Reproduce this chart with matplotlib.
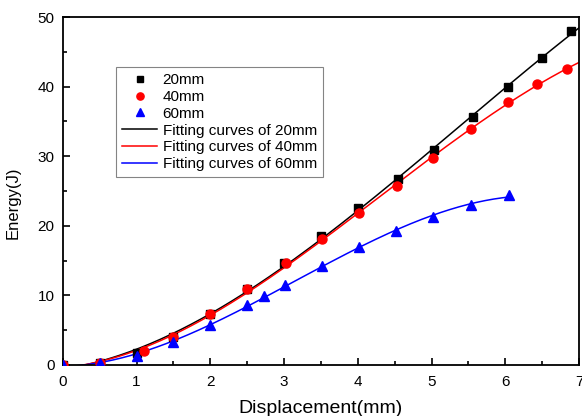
import numpy as np
import matplotlib
matplotlib.use("Agg")
import matplotlib.pyplot as plt
from matplotlib.ticker import MultipleLocator

plt.rcParams['font.family'] = ['Liberation Sans', 'DejaVu Sans']

x20 = [0, 0.5, 1.0, 1.5, 2.0, 2.5, 3.0, 3.5, 4.0, 4.55, 5.03, 5.56, 6.04, 6.5, 6.89]
y20 = [0, 0.3, 1.7, 4.0, 7.3, 10.9, 14.7, 18.5, 22.5, 26.7, 30.9, 35.6, 39.9, 44.1, 48.0]
x40 = [0, 0.5, 1.1, 1.5, 2.0, 2.5, 3.03, 3.51, 4.02, 4.53, 5.02, 5.53, 6.04, 6.43, 6.84]
y40 = [0, 0.3, 2.0, 4.0, 7.3, 10.9, 14.6, 18.1, 21.8, 25.7, 29.7, 33.9, 37.8, 40.4, 42.5]
x60 = [0, 0.5, 1.0, 1.5, 2.0, 2.5, 2.73, 3.01, 3.51, 4.02, 4.52, 5.02, 5.53, 6.05]
y60 = [0, 0.3, 1.3, 3.3, 5.7, 8.6, 9.9, 11.5, 14.2, 17.0, 19.2, 21.3, 23.0, 24.4]

labels_pts = ['20mm', '40mm', '60mm']
labels_fit = ['Fitting curves of 20mm', 'Fitting curves of 40mm', 'Fitting curves of 60mm']

fig = plt.figure(figsize=(5.82, 4.16), dpi=100)
ax = fig.add_axes([0.108, 0.1226, 0.887, 0.8364])

p20 = ax.plot(x20, y20, 's', color='black', ms=5.5, ls='none', label=labels_pts[0], zorder=3)[0]
p40 = ax.plot(x40, y40, 'o', color='red', ms=6.5, ls='none', label=labels_pts[1], zorder=3)[0]
p60 = ax.plot(x60, y60, '^', color='blue', ms=7, ls='none', label=labels_pts[2], zorder=3)[0]

def fit(xs, ys, xmax):
    c = np.polyfit(xs, ys, 3)
    xx = np.linspace(0.15, xmax, 200)
    return xx, np.polyval(c, xx)

xa, ya = fit(x20, y20, 7.0)
xb, yb = fit(x40, y40, 7.0)
xc, yc = fit(x60, y60, 6.05)
f20 = ax.plot(xa, ya, color='black', lw=1.1, label=labels_fit[0], zorder=2)[0]
f40 = ax.plot(xb, yb, color='red', lw=1.1, label=labels_fit[1], zorder=2)[0]
f60 = ax.plot(xc, yc, color='blue', lw=1.1, label=labels_fit[2], zorder=2)[0]

ax.set_xlim(0, 7)
ax.set_ylim(0, 50)
ax.xaxis.set_major_locator(MultipleLocator(1))
ax.xaxis.set_minor_locator(MultipleLocator(0.5))
ax.yaxis.set_major_locator(MultipleLocator(10))
ax.yaxis.set_minor_locator(MultipleLocator(5))
ax.tick_params(which='both', direction='in', top=False, right=False, labelsize=11)
ax.tick_params(which='major', length=5, width=1.2)
ax.tick_params(which='minor', length=3, width=1.2)
ax.tick_params(axis='x', which='major', pad=7)
ax.tick_params(axis='y', which='major', pad=6)
for s in ax.spines.values():
    s.set_linewidth(1.3)

ax.set_xlabel('Displacement(mm)', fontsize=14, labelpad=8)
ax.set_ylabel('Energy(J)', fontsize=12)
ax.yaxis.set_label_coords(-0.082, 0.466)

leg = ax.legend(handles=[p20, p40, p60, f20, f40, f60], loc='upper left',
                bbox_to_anchor=(0.103, 0.856), borderaxespad=0,
                fontsize=11, frameon=True, markerscale=0.8,
                fancybox=False, edgecolor='#666666', handlelength=2.3,
                labelspacing=0.18, borderpad=0.4, handletextpad=0.35)
leg.get_frame().set_linewidth(0.8)

fig.savefig('out.png', dpi=100)
